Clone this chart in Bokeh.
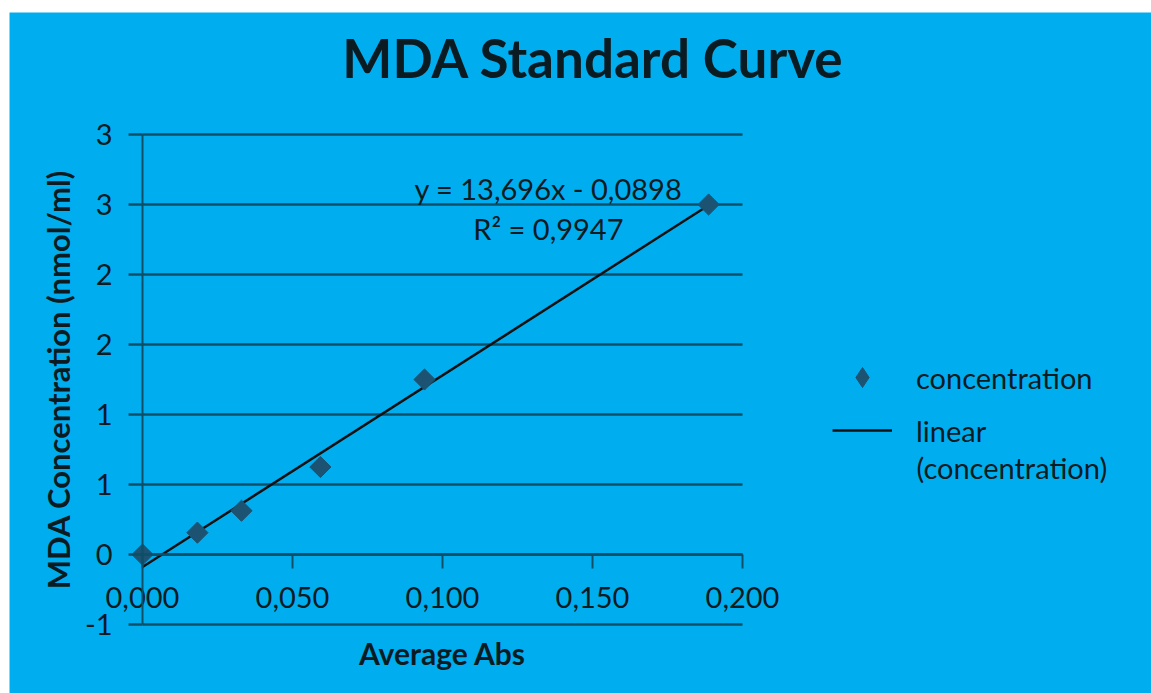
import numpy as np
from bokeh.plotting import figure
from bokeh.models import LinearAxis, FixedTicker, Label, Legend, LegendItem, Range1d
from bokeh.embed import file_html
from bokeh.resources import INLINE

# ---- data ----
avg_abs = [0.000, 0.0183, 0.0330, 0.0593, 0.0940, 0.1887]
concentration = [0.0, 0.156, 0.3125, 0.625, 1.25, 2.5]
slope = 13.696
intercept = -0.0898
eq_text = "y = 13,696x - 0,0898"
r2_text = "R\u00b2 = 0,9947"
x_ticks = [0.0, 0.05, 0.10, 0.15, 0.20]
x_tick_labels = ["0,000", "0,050", "0,100", "0,150", "0,200"]
y_ticks = [-0.5, 0.0, 0.5, 1.0, 1.5, 2.0, 2.5, 3.0]
y_tick_labels = ["-1", "0", "1", "1", "2", "2", "3", "3"]

BG = "#00AEEF"
GRID = "#0d4f66"
TXT = "#0b1b22"
MARK = "#1d5372"
FONT = "Lato"
FS = "29px"

# whole canvas is the plot frame; axes/grid are bounded to the data area
p = figure(width=1142, height=681, margin=(12, 0, 0, 9),
           x_range=Range1d(-0.04433, 0.33633), y_range=Range1d(-0.99286, 3.87143),
           x_axis_location=None, y_axis_location=None,
           output_backend="svg", toolbar_location=None,
           min_border=0)
p.background_fill_color = BG
p.border_fill_color = BG
p.outline_line_color = None
p.xgrid.visible = False
p.ygrid.visible = False

# horizontal grid lines across the data area
n = len(y_ticks)
p.segment(x0=[x_ticks[0]] * n, y0=y_ticks, x1=[x_ticks[-1]] * n, y1=y_ticks,
          line_color=GRID, line_width=2.5)

# y axis at x = 0
ya = LinearAxis(fixed_location=0, bounds=(y_ticks[0], y_ticks[-1]),
                ticker=FixedTicker(ticks=y_ticks))
ya.major_label_overrides = {t: l for t, l in zip(y_ticks, y_tick_labels)}
ya.axis_line_color = GRID
ya.axis_line_width = 2
ya.major_tick_line_color = GRID
ya.major_tick_line_width = 2.5
ya.major_tick_out = 14
ya.major_tick_in = 0
ya.minor_tick_line_color = None
ya.major_label_standoff = 16
ya.major_label_text_font = FONT
ya.major_label_text_font_size = FS
ya.major_label_text_color = TXT
ya.axis_label = "MDA Concentration (nmol/ml)"
ya.axis_label_text_font = FONT
ya.axis_label_text_font_style = "bold"
ya.axis_label_text_font_size = "31px"
ya.axis_label_text_color = TXT
ya.axis_label_standoff = 5
p.add_layout(ya, "left")

# x axis at y = 0
xa = LinearAxis(fixed_location=0, bounds=(x_ticks[0], x_ticks[-1]),
                ticker=FixedTicker(ticks=x_ticks))
xa.major_label_overrides = {t: l for t, l in zip(x_ticks, x_tick_labels)}
xa.axis_line_color = GRID
xa.axis_line_width = 2.5
xa.major_tick_line_color = GRID
xa.major_tick_line_width = 2
xa.major_tick_out = 14
xa.major_tick_in = 0
xa.minor_tick_line_color = None
xa.major_label_standoff = 19
xa.major_label_text_font = FONT
xa.major_label_text_font_size = FS
xa.major_label_text_color = TXT
xa.axis_label = "Average Abs"
xa.axis_label_text_font = FONT
xa.axis_label_text_font_style = "bold"
xa.axis_label_text_font_size = "30px"
xa.axis_label_text_color = TXT
xa.axis_label_standoff = 23
p.add_layout(xa, "below")

# trend line
xt = [0.0, max(avg_abs)]
yt = [slope * v + intercept for v in xt]
ln = p.line(xt, yt, line_color="#111111", line_width=2.5)

# data points (diamonds)
sc = p.scatter(avg_abs, concentration, marker="square", angle=np.pi / 4,
               size=15, fill_color=MARK, line_color=MARK)
# legend swatch (legend glyphs are never rotated, so use the diamond marker)
swatch = p.scatter(x=np.array([np.nan]), y=np.array([np.nan]), marker="diamond",
                   size=24, fill_color=MARK, line_color=MARK)

# title
p.add_layout(Label(x=0.1503, y=3.55, text="MDA Standard Curve",
                   text_align="center", text_baseline="middle",
                   text_font=FONT, text_font_style="bold",
                   text_font_size="53px", text_color=TXT))

# trend equation
p.add_layout(Label(x=0.1353, y=2.614, text=eq_text, text_align="center",
                   text_baseline="middle", text_font=FONT,
                   text_font_size=FS, text_color=TXT))
p.add_layout(Label(x=0.1353, y=2.329, text=r2_text, text_align="center",
                   text_baseline="middle", text_font=FONT,
                   text_font_size=FS, text_color=TXT))

legend = Legend(items=[LegendItem(label="concentration", renderers=[swatch]),
                       LegendItem(label="linear", renderers=[ln])],
                location=(823, 238), glyph_width=60, glyph_height=50,
                label_height=50, spacing=3, label_standoff=24, padding=10,
                background_fill_alpha=0, border_line_color=None,
                label_text_font=FONT, label_text_font_size=FS,
                label_text_color=TXT)
p.add_layout(legend, "center")
p.add_layout(Label(x=0.258, y=0.621, text="(concentration)", text_align="left",
                   text_baseline="middle", text_font=FONT,
                   text_font_size=FS, text_color=TXT))

open("out.html", "w").write(file_html(p, INLINE))
